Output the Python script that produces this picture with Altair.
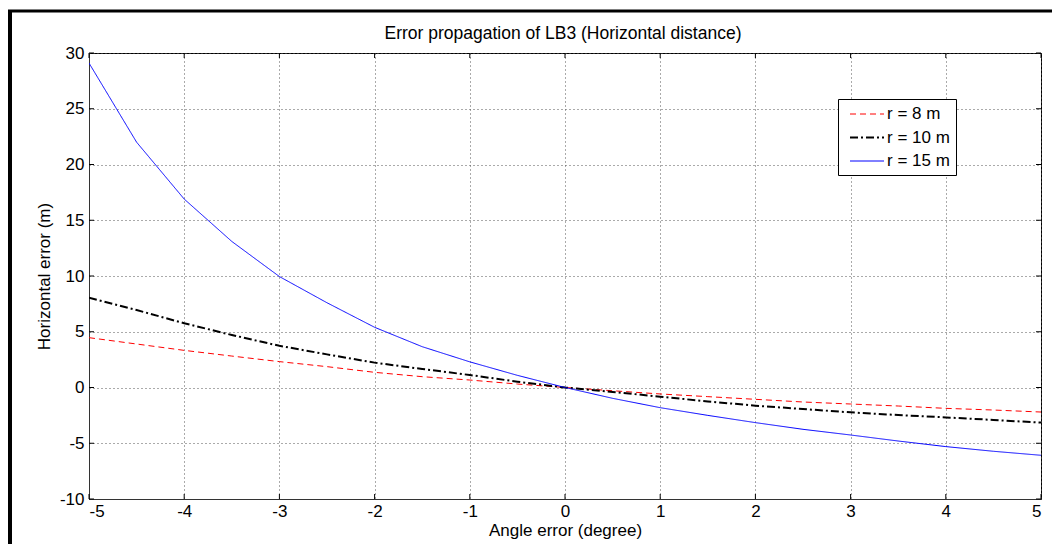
import altair as alt
import pandas as pd

# ---- data ----
angle = [-5, -4.5, -4, -3.5, -3, -2.5, -2, -1.5, -1, -0.5, 0,
         0.5, 1, 1.5, 2, 2.5, 3, 3.5, 4, 4.5, 5]
r8 = [4.47, 3.90, 3.33, 2.82, 2.32, 1.87, 1.36, 0.97, 0.67, 0.31, 0,
      -0.29, -0.58, -0.82, -1.06, -1.30, -1.48, -1.66, -1.87, -2.02, -2.20]
r10 = [8.05, 6.95, 5.76, 4.71, 3.74, 2.97, 2.23, 1.66, 1.12, 0.52, 0,
       -0.40, -0.82, -1.25, -1.63, -1.93, -2.23, -2.47, -2.68, -2.91, -3.15]
r15 = [29.1, 22.0, 16.9, 13.1, 9.95, 7.6, 5.4, 3.66, 2.30, 1.09, 0,
       -0.97, -1.81, -2.50, -3.15, -3.75, -4.26, -4.80, -5.30, -5.72, -6.08]
series_labels = ["r = 8 m", "r = 10 m", "r = 15 m"]
series_colors = ["#ff0000", "#000000", "#0000ff"]
series_dash = [[6, 4], [8, 3, 2, 3], [1, 0]]
series_width = [1, 2, 1]
x_ticks = [-5, -4, -3, -2, -1, 0, 1, 2, 3, 4, 5]
y_ticks = [-10, -5, 0, 5, 10, 15, 20, 25, 30]

title_text = "Error propagation of LB3 (Horizontal distance)"
x_title = "Angle error (degree)"
y_title = "Horizontal error (m)"

W, H = 952, 446
FONT = "Liberation Sans"
FS = 17

rows = []
for lab, vals in zip(series_labels, [r8, r10, r15]):
    for a, v in zip(angle, vals):
        rows.append({"angle": a, "err": v, "series": lab})
df = pd.DataFrame(rows)

xscale = alt.Scale(domain=[-5, 5], nice=False, zero=False)
yscale = alt.Scale(domain=[-10, 30], nice=False, zero=False)

xaxis = alt.Axis(values=x_ticks, labelExpr="'' + datum.value", title=x_title,
                 titleY=23, titleBaseline="top", labelPadding=4)
yaxis = alt.Axis(values=y_ticks, labelExpr="'' + datum.value", title=y_title,
                 titleX=-45, titleY=H / 2, titleBaseline="middle", labelPadding=5)

leg = alt.Legend(title=None, orient="none", legendX=749, legendY=46,
                 symbolType="M-1,0H3", symbolSize=289, symbolStrokeWidth=1,
                 labelFont=FONT, labelFontSize=FS, labelColor="black",
                 labelOffset=19, padding=6, rowPadding=6, symbolOffset=5,
                 strokeColor="black", fillColor="white")

lines = alt.Chart(df).mark_line(clip=True).encode(
    x=alt.X("angle:Q", scale=xscale, axis=xaxis),
    y=alt.Y("err:Q", scale=yscale, axis=yaxis),
    color=alt.Color("series:N", sort=series_labels,
                    scale=alt.Scale(domain=series_labels, range=series_colors),
                    legend=leg),
    strokeDash=alt.StrokeDash("series:N", sort=series_labels,
                              scale=alt.Scale(domain=series_labels, range=series_dash),
                              legend=leg),
    strokeWidth=alt.StrokeWidth("series:N",
                                scale=alt.Scale(type="ordinal", domain=series_labels,
                                                range=series_width),
                                legend=None),
)

xt = pd.DataFrame({"t": x_ticks})
yt = pd.DataFrame({"t": y_ticks})
TL = 5
bottom_ticks = alt.Chart(xt).mark_rule(color="black").encode(
    x=alt.X("t:Q", scale=xscale, title=x_title), y=alt.value(H), y2=alt.value(H - TL))
top_ticks = alt.Chart(xt).mark_rule(color="black").encode(
    x=alt.X("t:Q", scale=xscale, title=x_title), y=alt.value(0), y2=alt.value(TL))
left_ticks = alt.Chart(yt).mark_rule(color="black").encode(
    y=alt.Y("t:Q", scale=yscale, title=y_title), x=alt.value(0), x2=alt.value(TL))
right_ticks = alt.Chart(yt).mark_rule(color="black").encode(
    y=alt.Y("t:Q", scale=yscale, title=y_title), x=alt.value(W), x2=alt.value(W - TL))

one = pd.DataFrame({"k": [0]})
frame_top = alt.Chart(one).mark_rule(color="black", strokeWidth=3).encode(
    x=alt.value(-81), x2=alt.value(W + 11), y=alt.value(-42))
frame_left = alt.Chart(one).mark_rule(color="black", strokeWidth=4).encode(
    x=alt.value(-79), y=alt.value(-43), y2=alt.value(H + 45))

title_mark = alt.Chart(pd.DataFrame({"txt": [title_text]})).mark_text(
    font=FONT, fontSize=17.5, color="black", align="center", baseline="alphabetic"
).encode(text="txt:N", x=alt.value(W / 2 - 2), y=alt.value(-14.5))

chart = alt.layer(
    lines, bottom_ticks, top_ticks, left_ticks, right_ticks,
    frame_top, frame_left, title_mark
).properties(
    width=W, height=H,
    padding={"left": 81, "top": 45, "right": 11, "bottom": 45},
    autosize=alt.AutoSizeParams(type="none"),
).configure_view(
    stroke="black", strokeWidth=1
).configure_axis(
    grid=True, gridColor="#555555", gridDash=[1, 3], gridWidth=1, gridOpacity=1,
    domainColor="#333333", domainWidth=1, ticks=False,
    labelFont=FONT, labelFontSize=FS, labelColor="black",
    titleFont=FONT, titleFontSize=FS, titleFontWeight="normal", titleColor="black",
)

chart.save("out.html", embed_options={"renderer": "svg", "actions": False})
